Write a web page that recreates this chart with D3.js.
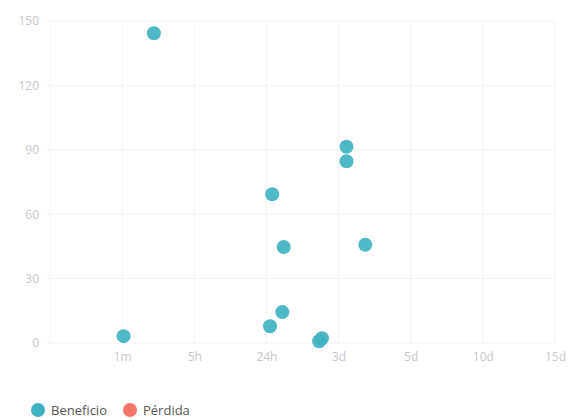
<!DOCTYPE html>
<html>
<head>
<meta charset="utf-8">
<script src="https://cdn.jsdelivr.net/npm/d3@7"></script>
<style>
  body { margin: 0; background: #fff; }
  svg { font-family: "Open Sans", sans-serif; }
</style>
</head>
<body>
<div id="scatter"></div>
<script>
// Tick labels for the time axis (one slot per position)
var timeLabels = ["", "1m", "5h", "24h", "3d", "5d", "10d", "15d"];
var yTicks = [0, 30, 60, 90, 120, 150];

// Points: position on the time axis (in slots) and value
var beneficioX = [1.44, 1.02, 3.08, 3.24, 3.22, 3.05, 4.11, 4.11, 4.37, 3.77, 3.73];
var beneficioY = [144.3, 3.2, 69.3, 44.7, 14.4, 7.8, 91.4, 84.7, 45.8, 2.2, 0.8];

var seriesNames = ["Beneficio", "Pérdida"];
var seriesColors = ["#3fb2c1", "#f4756a"];

var svgWidth = 587;
var svgHeight = 420;
var margin = { top: 21, right: 32, bottom: 77, left: 50 };
var width = svgWidth - margin.left - margin.right;
var height = svgHeight - margin.top - margin.bottom;

var svg = d3.select("#scatter")
  .append("svg")
  .attr("width", svgWidth)
  .attr("height", svgHeight);

var chartGroup = svg.append("g")
  .attr("transform", `translate(${margin.left}, ${margin.top})`);

var xScale = d3.scaleLinear()
  .domain([0, timeLabels.length - 1])
  .range([0, width]);

var yScale = d3.scaleLinear()
  .domain([0, 150])
  .range([height, 0]);

// grid lines
chartGroup.append("g")
  .selectAll("line")
  .data(yTicks)
  .enter()
  .append("line")
  .attr("x1", -3)
  .attr("x2", width)
  .attr("y1", d => yScale(d))
  .attr("y2", d => yScale(d))
  .attr("stroke", "#f2f2f2");

chartGroup.append("g")
  .selectAll("line")
  .data(d3.range(timeLabels.length))
  .enter()
  .append("line")
  .attr("x1", d => xScale(d))
  .attr("x2", d => xScale(d))
  .attr("y1", 0)
  .attr("y2", height)
  .attr("stroke", "#f4f4f4");

// axes
var bottomAxis = d3.axisBottom(xScale)
  .tickValues(d3.range(timeLabels.length))
  .tickFormat(i => timeLabels[i])
  .tickSize(0)
  .tickPadding(9);

var leftAxis = d3.axisLeft(yScale)
  .tickValues(yTicks)
  .tickSize(0)
  .tickPadding(11);

var xAxisG = chartGroup.append("g")
  .attr("transform", `translate(0, ${height})`)
  .call(bottomAxis);
var yAxisG = chartGroup.append("g").call(leftAxis);

[xAxisG, yAxisG].forEach(function(g) {
  g.select(".domain").remove();
  g.selectAll("text")
    .attr("fill", "#c8c8c8")
    .style("font-size", "12px")
    .style("font-family", "'Open Sans', sans-serif");
});

// points
chartGroup.append("g")
  .selectAll("circle")
  .data(beneficioX)
  .enter()
  .append("circle")
  .attr("cx", d => xScale(d))
  .attr("cy", (d, i) => yScale(beneficioY[i]))
  .attr("r", 7)
  .attr("fill", seriesColors[0])
  .attr("fill-opacity", 0.92);

// legend
var legendX = [38, 130];
var legend = svg.append("g");
seriesNames.forEach(function(name, i) {
  legend.append("circle")
    .attr("cx", legendX[i])
    .attr("cy", 410)
    .attr("r", 7)
    .attr("fill", seriesColors[i]);
  legend.append("text")
    .attr("x", legendX[i] + 13)
    .attr("y", 415)
    .attr("fill", "#555")
    .style("font-size", "13px")
    .text(name);
});
</script>
</body>
</html>
